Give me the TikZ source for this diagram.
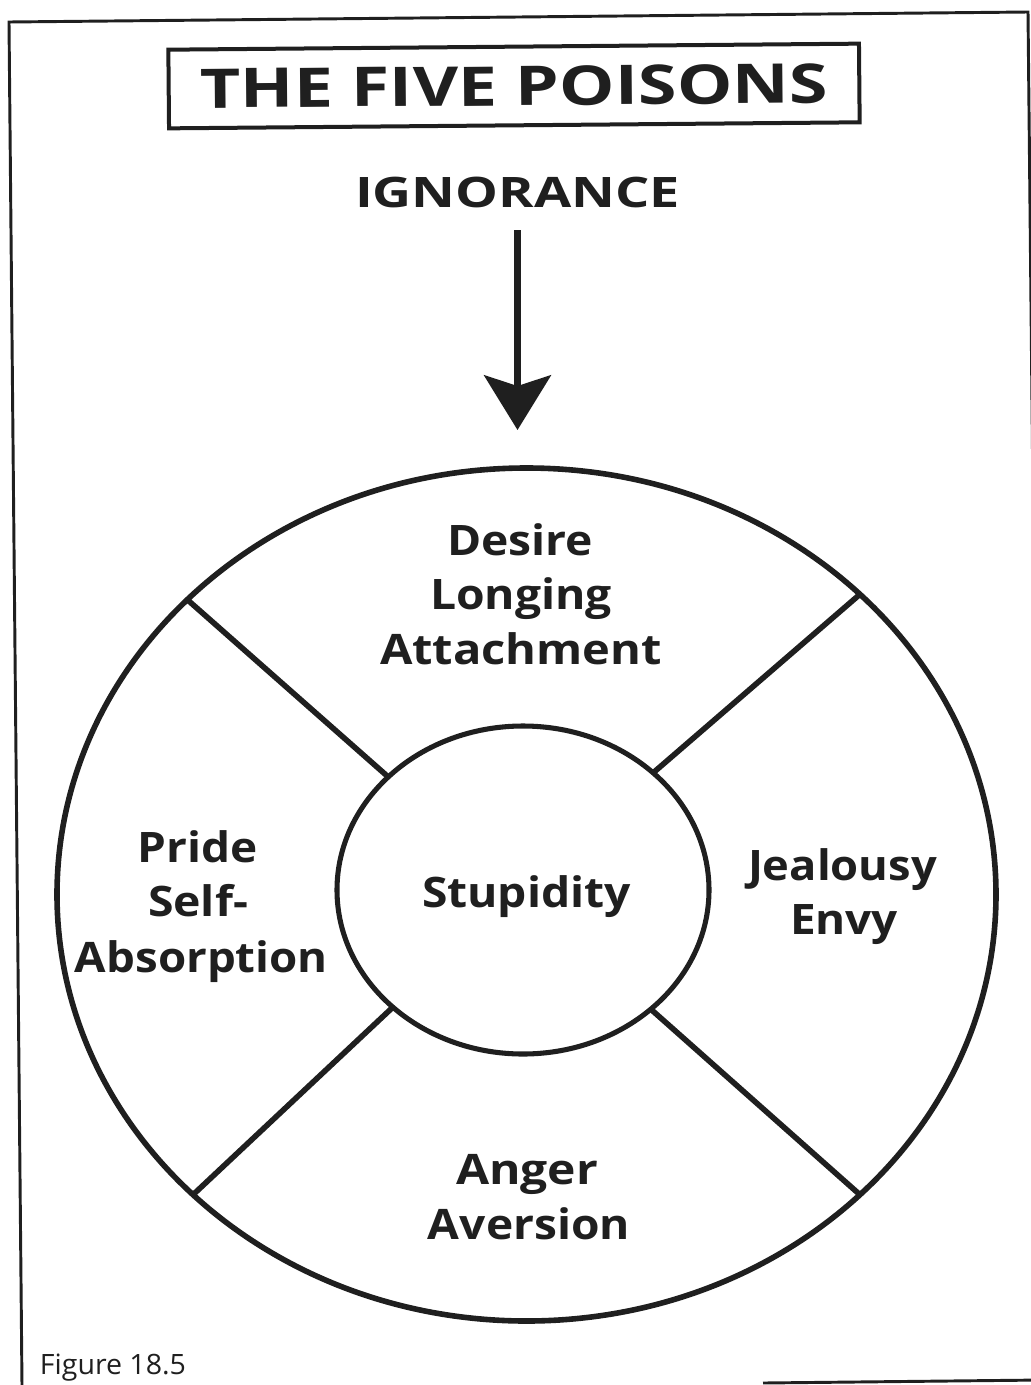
\documentclass[tikz,border=0pt]{standalone}
\usepackage{fontspec}
\setmainfont{Open Sans}
\usetikzlibrary{arrows.meta,shapes.geometric}
% stretch a line of text to a given width, keeping its natural height
\newcommand\fitw[2]{\resizebox{#1}{\height}{#2}}
\definecolor{ink}{gray}{0.12}
\begin{document}
\begin{tikzpicture}[x=0.75pt,y=-0.75pt,
  lbl/.style={font=\bfseries\fontsize{31.5}{38}\selectfont, text=ink, inner sep=0, anchor=base},
  ring/.style={ellipse, draw=ink, line width=4.2pt, inner sep=0, outer sep=0},
  spoke/.style={draw=ink, line width=4.2pt},
  frame/.style={draw=ink, line width=2.2pt}]
\useasboundingbox (0,0) rectangle (1031,1385);
\clip (0,0) rectangle (1031,1385);

% page frame
\draw[frame] (22,1385) -- (9,22) -- (1028,12) -- (1042,1385);
\draw[frame] (763,1383) -- (1042,1380);

% title
\node[draw=ink, line width=3pt, rotate=0.5, minimum width=518pt, minimum height=59pt,
      inner sep=0, font=\bfseries\fontsize{41}{48}\selectfont, text=ink] (title) at (514,86)
  {\fitw{471pt}{THE FIVE POISONS}};

\node[lbl] (ign) at (517.5,207) {\fitw{243.75pt}{IGNORANCE}};
\coordinate (tip) at (517.5,430);
\draw[ink, line width=5.25pt, shorten <=17pt,
      -{Stealth[length=41pt, width=50pt, inset=8pt]}] (ign.south) -- (tip);

% the wheel
\node[ring, minimum width=704.25pt, minimum height=639.75pt] (outer) at (526.5,894.5) {};
\node[ring, line width=3.8pt, minimum width=279pt, minimum height=246pt] (inner) at (523,890) {};
\draw[spoke] (outer.139)   -- (inner.140.4);
\draw[spoke] (outer.42.8)  -- (inner.42.7);
\draw[spoke] (outer.222.7) -- (inner.222.3);
\draw[spoke] (outer.318.4) -- (inner.317.2);

% segment labels
\node[lbl] (desire) at (520,555) {\fitw{109.5pt}{Desire}};
\node[lbl] (longing) at (521,609) {\fitw{136.5pt}{Longing}};
\node[lbl] (attach) at (521,664) {\fitw{211.5pt}{Attachment}};

\node[lbl] (pride) at (198,862) {\fitw{90pt}{Pride}};
\node[lbl] (self) at (198,916) {\fitw{75pt}{Self-}};
\node[lbl] (absorb) at (201.5,972) {\fitw{189.75pt}{Absorption}};

\node[lbl] (stupid) at (526.5,907) {\fitw{156.75pt}{Stupidity}};

\node[lbl] (jeal) at (842.5,880) {\fitw{141.75pt}{Jealousy}};
\node[lbl] (envy) at (844,934) {\fitw{81pt}{Envy}};

\node[lbl] (anger) at (527,1184) {\fitw{106.5pt}{Anger}};
\node[lbl] (aversion) at (529,1239) {\fitw{151.5pt}{Aversion}};

% caption
\node[font=\fontsize{21}{25}\selectfont, text=ink, inner sep=0, anchor=base] (cap) at (113,1374)
  {\fitw{109.5pt}{Figure 18.5}};
\end{tikzpicture}
\end{document}
